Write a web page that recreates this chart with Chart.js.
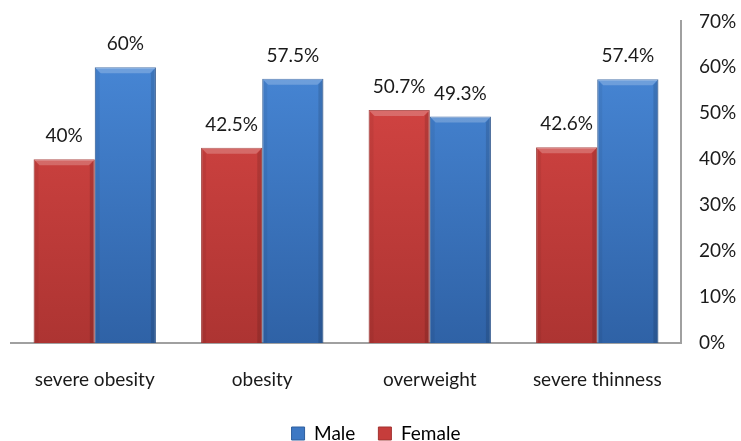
<!DOCTYPE html>
<html>
<head>
<meta charset="utf-8">
<script src="https://cdn.jsdelivr.net/npm/chart.js@4.4.1/dist/chart.umd.min.js"></script>
<style>
    html, body { margin: 0; padding: 0; background: #fff; }
    #wrap { width: 741px; height: 441px; }
</style>
</head>
<body>
<div id="wrap"><canvas id="genderChart" width="741" height="441"></canvas></div>
<script>
const categories = ["severe obesity", "obesity", "overweight", "severe thinness"];
const femaleValues = [40, 42.5, 50.7, 42.6];
const maleValues = [60, 57.5, 49.3, 57.4];
const yTicks = [0, 10, 20, 30, 40, 50, 60, 70];

const FONT = "Lato, 'Open Sans', sans-serif";
const FONT_SIZE = 19;

const barGradient = (top, bottom) => (ctx) => {
    const area = ctx.chart.chartArea;
    if (!area) {
        return top;
    }
    const g = ctx.chart.ctx.createLinearGradient(0, area.top, 0, area.bottom);
    g.addColorStop(0, top);
    g.addColorStop(1, bottom);
    return g;
};

// value labels above each bar
const valueLabels = {
    id: "valueLabels",
    afterDatasetsDraw(chart) {
        const c = chart.ctx;
        c.save();
        c.font = FONT_SIZE + "px " + FONT;
        c.fillStyle = "#1a1a1a";
        c.textAlign = "center";
        c.textBaseline = "middle";
        chart.data.datasets.forEach((ds, i) => {
            chart.getDatasetMeta(i).data.forEach((bar, j) => {
                c.fillText(ds.data[j] + "%", bar.x, bar.y - 23);
            });
        });
        c.restore();
    }
};

// light top edge / dark sides, like the bevel in the original
const bevel = {
    id: "bevel",
    afterDatasetsDraw(chart) {
        const c = chart.ctx;
        c.save();
        chart.data.datasets.forEach((ds, i) => {
            chart.getDatasetMeta(i).data.forEach((bar) => {
                const l = bar.x - bar.width / 2;
                const r = bar.x + bar.width / 2;
                const t = bar.y;
                const b = bar.base;
                c.fillStyle = "rgba(255,255,255,0.22)";
                c.beginPath();
                c.moveTo(l, t); c.lineTo(r, t); c.lineTo(r - 6, t + 6); c.lineTo(l + 6, t + 6);
                c.closePath(); c.fill();
                c.fillStyle = "rgba(0,0,0,0.12)";
                c.beginPath();
                c.moveTo(r, t); c.lineTo(r, b); c.lineTo(r - 5, b); c.lineTo(r - 5, t + 6);
                c.closePath(); c.fill();
                c.fillStyle = "rgba(0,0,0,0.05)";
                c.beginPath();
                c.moveTo(l, t); c.lineTo(l + 5, t + 6); c.lineTo(l + 5, b); c.lineTo(l, b);
                c.closePath(); c.fill();
            });
        });
        c.restore();
    }
};

new Chart(document.getElementById("genderChart"), {
    type: "bar",
    data: {
        labels: categories,
        datasets: [
            {
                label: "Female",
                data: femaleValues,
                backgroundColor: barGradient("#dc4846", "#ad3432"),
                borderColor: "#a23330",
                borderWidth: 1,
                categoryPercentage: 0.73,
                barPercentage: 1
            },
            {
                label: "Male",
                data: maleValues,
                backgroundColor: barGradient("#4a8bdb", "#2f62a6"),
                borderColor: "#2e5e9e",
                borderWidth: 1,
                categoryPercentage: 0.73,
                barPercentage: 1
            }
        ]
    },
    options: {
        responsive: false,
        animation: false,
        layout: { padding: { left: 11, top: 5, right: 0, bottom: 0 } },
        plugins: {
            tooltip: { enabled: false },
            legend: {
                position: "bottom",
                reverse: true,
                maxHeight: 40,
                labels: {
                    font: { family: FONT, size: FONT_SIZE },
                    color: "#1a1a1a",
                    boxWidth: 13,
                    boxHeight: 13,
                    padding: 23,
                    generateLabels(chart) {
                        const cols = ["#c63d3b", "#3d78c4"];
                        return chart.data.datasets.map((ds, i) => ({
                            text: ds.label,
                            fillStyle: cols[i],
                            strokeStyle: i ? "#2e5e9e" : "#a23330",
                            lineWidth: 1,
                            datasetIndex: i
                        }));
                    }
                }
            }
        },
        scales: {
            x: {
                grid: { display: false },
                border: { color: "#a0a0a0", width: 2 },
                ticks: {
                    font: { family: FONT, size: FONT_SIZE },
                    color: "#1a1a1a",
                    padding: 17
                },
                afterFit(axis) {
                    axis.height = 58;
                }
            },
            y: {
                position: "right",
                min: 0,
                max: 70,
                afterBuildTicks(axis) {
                    axis.ticks = yTicks.map((v) => ({ value: v }));
                },
                grid: { display: false },
                border: { color: "#a0a0a0", width: 2 },
                ticks: {
                    font: { family: FONT, size: FONT_SIZE },
                    color: "#1a1a1a",
                    padding: 10,
                    callback: (v) => v + "%"
                },
                afterFit(axis) {
                    axis.width = 60;
                }
            }
        }
    },
    plugins: [bevel, valueLabels]
});
</script>
</body>
</html>
